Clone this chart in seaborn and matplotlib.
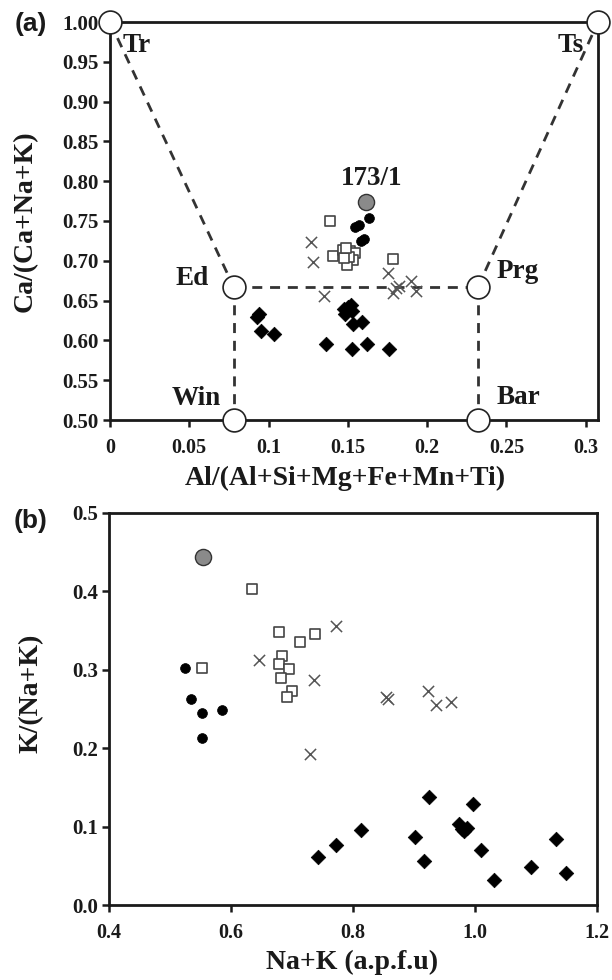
import matplotlib
matplotlib.use("Agg")
import matplotlib.pyplot as plt
import seaborn as sns
import pandas as pd

# ---------------- data: panel (a) ----------------
a_circle_x = [0.1634, 0.1543, 0.1570, 0.1581, 0.1602]
a_circle_y = [0.754, 0.742, 0.745, 0.725, 0.727]
a_gray_x = [0.1613]
a_gray_y = [0.774]
a_square_x = [0.139, 0.1785, 0.1407, 0.1467, 0.1513, 0.1543, 0.1534, 0.1496, 0.1507, 0.1475, 0.149]
a_square_y = [0.750, 0.7027, 0.706, 0.7136, 0.7128, 0.7103, 0.7006, 0.6947, 0.7053, 0.704, 0.716]
a_cross_x = [0.1267, 0.128, 0.1348, 0.175, 0.1782, 0.1803, 0.1825, 0.1899, 0.1931]
a_cross_y = [0.723, 0.698, 0.656, 0.685, 0.659, 0.666, 0.668, 0.675, 0.662]
a_diamond_x = [0.0941, 0.0924, 0.0955, 0.1034, 0.1365, 0.1475, 0.1517, 0.1528, 0.1500,
               0.1534, 0.1587, 0.1528, 0.1619, 0.1761, 0.1480]
a_diamond_y = [0.633, 0.629, 0.612, 0.608, 0.596, 0.639, 0.645, 0.637, 0.642,
               0.620, 0.623, 0.589, 0.596, 0.589, 0.633]

# end members
em_names = ["Tr", "Ts", "Ed", "Prg", "Win", "Bar"]
em_x = [0.0, 0.3077, 0.078, 0.232, 0.078, 0.232]
em_y = [1.0, 1.0, 0.667, 0.667, 0.5, 0.5]
em_links = [("Tr", "Ed"), ("Ed", "Prg"), ("Prg", "Ts"), ("Ed", "Win"), ("Prg", "Bar")]

a_xticks = [0, 0.05, 0.1, 0.15, 0.2, 0.25, 0.3]
a_xticklabels = ["0", "0.05", "0.1", "0.15", "0.2", "0.25", "0.3"]
a_yticks = [0.50, 0.55, 0.60, 0.65, 0.70, 0.75, 0.80, 0.85, 0.90, 0.95, 1.00]
a_yticklabels = ["0.50", "0.55", "0.60", "0.65", "0.70", "0.75", "0.80", "0.85", "0.90", "0.95", "1.00"]

# ---------------- data: panel (b) ----------------
b_circle_x = [0.5243, 0.5341, 0.5517, 0.5845, 0.5517]
b_circle_y = [0.3023, 0.2633, 0.245, 0.2484, 0.213]
b_gray_x = [0.5544]
b_gray_y = [0.4437]
b_square_x = [0.5517, 0.6338, 0.6792, 0.7378, 0.7131, 0.6842, 0.6792, 0.6952, 0.6814, 0.7006, 0.6924]
b_square_y = [0.302, 0.403, 0.3478, 0.3456, 0.3354, 0.318, 0.3074, 0.301, 0.2896, 0.2726, 0.2658]
b_cross_x = [0.6464, 0.7718, 0.7361, 0.7296, 0.8545, 0.8571, 0.9229, 0.9364, 0.9607]
b_cross_y = [0.3121, 0.3554, 0.2875, 0.1927, 0.265, 0.263, 0.2726, 0.2556, 0.2586]
b_diamond_x = [0.7434, 0.7724, 0.8135, 0.9021, 0.9158, 0.9245, 0.9733, 0.978, 0.9815, 0.9869,
               0.9969, 1.0095, 1.0308, 1.092, 1.1321, 1.1486]
b_diamond_y = [0.0615, 0.0768, 0.0951, 0.0862, 0.0565, 0.1376, 0.1028, 0.097, 0.0943, 0.0977,
               0.1286, 0.0705, 0.0314, 0.048, 0.084, 0.0408]

b_xticks = [0.4, 0.6, 0.8, 1.0, 1.2]
b_xticklabels = ["0.4", "0.6", "0.8", "1.0", "1.2"]
b_yticks = [0.0, 0.1, 0.2, 0.3, 0.4, 0.5]
b_yticklabels = ["0.0", "0.1", "0.2", "0.3", "0.4", "0.5"]

# ---------------- style ----------------
sns.set_style("ticks")
SERIF = ["Liberation Serif", "DejaVu Serif"]
plt.rcParams["font.family"] = SERIF
plt.rcParams["font.weight"] = "bold"
INK = "#1a1a1a"

W, H = 612, 980
fig = plt.figure(figsize=(W / 100, H / 100), dpi=100)


def box(l, r, t, b):
    return [l / W, 1 - b / H, (r - l) / W, (b - t) / H]


ax1 = fig.add_axes(box(110, 598, 22, 420))
ax2 = fig.add_axes(box(109, 597, 513, 905))


def scatter_groups(ax, cx, cy, gx, gy, sx, sy, xx, xy, dx, dy):
    sns.scatterplot(x=dx, y=dy, ax=ax, marker="D", s=55, color="black",
                    edgecolor="black", linewidth=0.5, zorder=3, clip_on=False)
    sns.scatterplot(x=xx, y=xy, ax=ax, marker="x", s=65, color="#555555",
                    linewidth=1.1, zorder=3, clip_on=False)
    sns.scatterplot(x=sx, y=sy, ax=ax, marker="s", s=62, facecolor="white",
                    edgecolor="#444444", linewidth=1.2, zorder=4, clip_on=False)
    sns.scatterplot(x=cx, y=cy, ax=ax, marker="o", s=50, color="black",
                    edgecolor="black", linewidth=0.5, zorder=5, clip_on=False)
    sns.scatterplot(x=gx, y=gy, ax=ax, marker="o", s=135, color="#8a8a8a",
                    edgecolor="#333333", linewidth=1.0, zorder=5, clip_on=False)


# ---------------- panel (a) ----------------
em = pd.DataFrame({"name": em_names, "x": em_x, "y": em_y}).set_index("name")
for p, q in em_links:
    sns.lineplot(x=[em.loc[p, "x"], em.loc[q, "x"]], y=[em.loc[p, "y"], em.loc[q, "y"]],
                 ax=ax1, color="#333333", linewidth=2.0, sort=False, estimator=None, zorder=2)
for ln in ax1.lines:
    ln.set_linestyle((0, (3.6, 2.8)))

scatter_groups(ax1, a_circle_x, a_circle_y, a_gray_x, a_gray_y, a_square_x, a_square_y,
               a_cross_x, a_cross_y, a_diamond_x, a_diamond_y)

sns.scatterplot(data=em.reset_index(), x="x", y="y", ax=ax1, marker="o", s=270,
                color="white", edgecolor="#222222", linewidth=1.2, zorder=6, clip_on=False)

ax1.set_xlim(0, 0.3077)
ax1.set_ylim(0.5, 1.0)
ax1.set_xticks(a_xticks)
ax1.set_xticklabels(a_xticklabels)
ax1.set_yticks(a_yticks)
ax1.set_yticklabels(a_yticklabels)
ax1.set_xlabel("")
ax1.set_ylabel("")

lab_kw = dict(fontsize=19.5, fontweight="bold", color=INK, zorder=7)
ax1.text(0.008, 0.971, "Tr", ha="left", va="center", **lab_kw)
ax1.text(0.2985, 0.971, "Ts", ha="right", va="center", **lab_kw)
ax1.text(0.0625, 0.678, "Ed", ha="right", va="center", **lab_kw)
ax1.text(0.070, 0.527, "Win", ha="right", va="center", **lab_kw)
ax1.text(0.2435, 0.686, "Prg", ha="left", va="center", **lab_kw)
ax1.text(0.2435, 0.528, "Bar", ha="left", va="center", **lab_kw)
ax1.text(0.1650, 0.803, "173/1", ha="center", va="center", **lab_kw)

# ---------------- panel (b) ----------------
scatter_groups(ax2, b_circle_x, b_circle_y, b_gray_x, b_gray_y, b_square_x, b_square_y,
               b_cross_x, b_cross_y, b_diamond_x, b_diamond_y)
ax2.set_xlim(0.4, 1.2)
ax2.set_ylim(0.0, 0.5)
ax2.set_xticks(b_xticks)
ax2.set_xticklabels(b_xticklabels)
ax2.set_yticks(b_yticks)
ax2.set_yticklabels(b_yticklabels)
ax2.set_xlabel("")
ax2.set_ylabel("")

for ax in (ax1, ax2):
    for sp in ax.spines.values():
        sp.set_visible(True)
        sp.set_linewidth(2.0)
        sp.set_color(INK)
    ax.tick_params(axis="both", direction="out", length=5, width=1.8, color=INK,
                   labelcolor=INK)
    ax.tick_params(axis="y", labelsize=15, pad=3)
    ax.tick_params(axis="x", labelsize=14.5, pad=8)
    for t in ax.get_xticklabels() + ax.get_yticklabels():
        t.set_fontweight("bold")

axlab = dict(fontsize=20, fontweight="bold", color=INK)
fig.text(345 / W, 1 - 478 / H, "Al/(Al+Si+Mg+Fe+Mn+Ti)", ha="center", va="center", **axlab)
fig.text(25 / W, 1 - 221 / H, "Ca/(Ca+Na+K)", ha="center", va="center", rotation=90, **axlab)
fig.text(352 / W, 1 - 962 / H, "Na+K (a.p.f.u)", ha="center", va="center", **axlab)
fig.text(31 / W, 1 - 693 / H, "K/(Na+K)", ha="center", va="center", rotation=90, **axlab)

pan = dict(fontsize=19, fontweight="bold", color=INK, family=["Liberation Sans", "DejaVu Sans"])
fig.text(31 / W, 1 - 24 / H, "(a)", ha="center", va="center", **pan)
fig.text(31 / W, 1 - 521 / H, "(b)", ha="center", va="center", **pan)

fig.savefig("out.png", dpi=100, facecolor="white")
